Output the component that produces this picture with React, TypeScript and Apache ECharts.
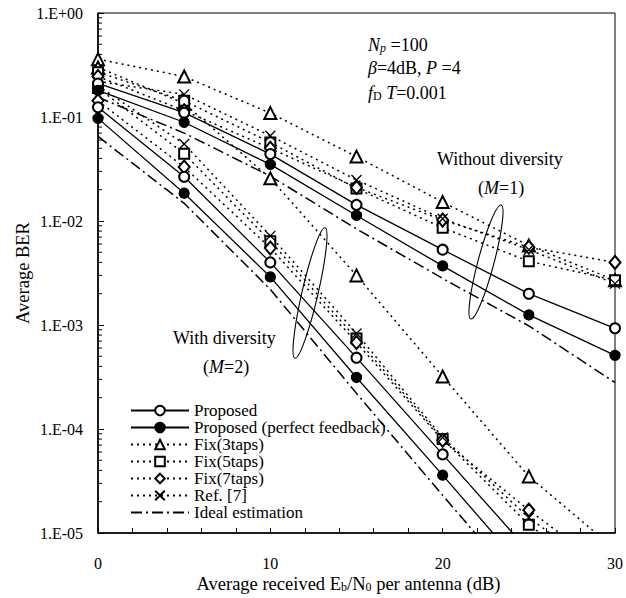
import React, { useEffect, useRef } from "react";
import * as echarts from "echarts";

const FONT = '"Liberation Serif", "Times New Roman", serif';

// Eb/N0 (dB)
const snr = [0, 5, 10, 15, 20, 25, 30];

// Without diversity (M=1)
const prop1 = [0.21, 0.11, 0.044, 0.0143, 0.0053, 0.002, 0.00093];
const perf1 = [0.18, 0.089, 0.035, 0.0113, 0.0037, 0.00125, 0.00051];
const fix3_1 = [0.36, 0.245, 0.109, 0.0416, 0.0152, 0.0058, 0.0027];
const fix5_1 = [0.27, 0.143, 0.057, 0.0205, 0.0086, 0.0041, 0.0027];
const fix7_1 = [0.245, 0.115, 0.05, 0.021, 0.0102, 0.0056, 0.004];
const ref1 = [0.22, 0.165, 0.066, 0.0248, 0.0105, 0.0053, 0.0025];
const ideal1 = [0.155, 0.07, 0.027, 0.0084, 0.0028, 0.00098, 0.00028];

// With diversity (M=2)
const prop2 = [0.124, 0.0266, 0.004, 0.000485, 0.000057, 0.0000067, null];
const perf2 = [0.097, 0.0185, 0.0029, 0.000313, 0.000036, 0.000004, null];
const fix3_2 = [0.3, 0.135, 0.0257, 0.003, 0.00032, 0.000035, 0.000007];
const fix5_2 = [0.19, 0.0444, 0.0064, 0.00074, 0.00008, 0.000012, 0.000003];
const fix7_2 = [0.143, 0.033, 0.0055, 0.00068, 0.000078, 0.0000166, 0.000004];
const ref2 = [0.2, 0.055, 0.0072, 0.00083, 0.000083, 0.000014, 0.0000035];
const ideal2 = [0.065, 0.0148, 0.0022, 0.00022, 0.000023, 0.0000025, null];

const legendNames = [
  "Proposed",
  "Proposed (perfect feedback)",
  "Fix(3taps)",
  "Fix(5taps)",
  "Fix(7taps)",
  "Ref. [7]",
  "Ideal estimation",
];

const decades = [-5, -4, -3, -2, -1];
const minorMultipliers = [2, 3, 4, 5, 6, 7, 8, 9];

const CROSS = "path://M0,0L10,10M10,0L0,10";
const DOTTED = [2, 4];
const DASHDOT = [11, 4, 2, 4];

type Style = { symbol: string; size: any; line: any };
const styles: Record<string, Style> = {
  "Proposed": { symbol: "emptyCircle", size: 10, line: "solid" },
  "Proposed (perfect feedback)": { symbol: "circle", size: 10, line: "solid" },
  "Fix(3taps)": { symbol: "emptyTriangle", size: 12, line: DOTTED },
  "Fix(5taps)": { symbol: "emptyRect", size: 10, line: DOTTED },
  "Fix(7taps)": { symbol: "emptyDiamond", size: [11, 13], line: DOTTED },
  "Ref. [7]": { symbol: CROSS, size: 10, line: DOTTED },
  "Ideal estimation": { symbol: "none", size: 1, line: DASHDOT },
};

function mk(name: string, vals: (number | null)[]) {
  const st = styles[name];
  return {
    name,
    type: "line",
    data: snr.map((x, i) => [x, vals[i]]),
    symbol: st.symbol,
    symbolSize: st.size,
    clip: true,
    lineStyle: { color: "#000", width: st.line === "solid" ? 1.3 : 1.5, type: st.line },
    itemStyle: { color: "#000", borderColor: "#000", borderWidth: 1.3 },
    emphasis: { disabled: true },
    z: 3,
  };
}

export default function App() {
  const ref = useRef<HTMLDivElement>(null);
  useEffect(() => {
    if (!ref.current) return;
    const chart = echarts.init(ref.current, undefined, { renderer: "svg" });
    const minorData: number[][] = [];
    decades.forEach((e) =>
      minorMultipliers.forEach((m) => minorData.push([0, m * Math.pow(10, e)]))
    );
    const richAxis = {
      n: { fontSize: 18.5, fontFamily: FONT, color: "#000" },
      s: { fontSize: 12, fontFamily: FONT, color: "#000", verticalAlign: "bottom" },
    };
    const richA = {
      i: { fontStyle: "italic", fontSize: 18, fontFamily: FONT, verticalAlign: "top" },
      n: { fontSize: 18, fontFamily: FONT, verticalAlign: "top" },
      si: { fontStyle: "italic", fontSize: 12, lineHeight: 12, fontFamily: FONT, verticalAlign: "bottom", padding: [9, 0, 0, 0] },
      s: { fontSize: 12, lineHeight: 12, fontFamily: FONT, verticalAlign: "bottom", padding: [9, 0, 0, 0] },
    };
    const txt = (x: number, y: number, text: string) => ({
      type: "text",
      x,
      y,
      z: 10,
      style: {
        text,
        rich: richA,
        fill: "#000",
        fontSize: 18,
        fontFamily: FONT,
        verticalAlign: "middle",
        align: "left",
      },
    });
    const option: any = {
      animation: false,
      backgroundColor: "#fff",
      grid: {
        left: 98,
        right: 11,
        top: 13,
        bottom: 60,
        show: true,
        borderColor: "#000",
        borderWidth: 1,
      },
      xAxis: {
        type: "value",
        min: 0,
        max: 30,
        interval: 10,
        name: "{n|Average received E}{s|b}{n|/N}{s|0}{n| per antenna (dB)}",
        nameLocation: "middle",
        nameGap: 41,
        nameMoveOverlap: false,
        nameTextStyle: { color: "#000", fontFamily: FONT, fontSize: 18.5, rich: richAxis, padding: [0, 16, 0, 0] },
        axisLine: { lineStyle: { color: "#000", width: 1.6 } },
        axisTick: { inside: true, length: 5, lineStyle: { color: "#000" } },
        minorTick: { show: true, splitNumber: 5, length: 5, lineStyle: { color: "#000" } },
        axisLabel: { margin: 22, color: "#000", fontFamily: FONT, fontSize: 16 },
        splitLine: { show: false },
        minorSplitLine: { show: false },
      },
      yAxis: {
        type: "log",
        logBase: 10,
        min: 1e-5,
        max: 1,
        splitNumber: 5,
        name: "Average BER",
        nameLocation: "middle",
        nameGap: 66,
        nameMoveOverlap: false,
        nameTextStyle: { color: "#000", fontFamily: FONT, fontSize: 18.5 },
        axisLine: { lineStyle: { color: "#000", width: 1.6 } },
        axisTick: { inside: true, length: 6, lineStyle: { color: "#000" } },
        axisLabel: {
          margin: 15,
          color: "#000",
          fontFamily: FONT,
          fontSize: 16,
          formatter: (v: number) => {
            const e = Math.round(Math.log10(v));
            return "1.E" + (e >= 0 ? "+" : "-") + String(Math.abs(e)).padStart(2, "0");
          },
        },
        splitLine: { show: false },
      },
      legend: {
        orient: "vertical",
        left: 130,
        top: 402,
        padding: 0,
        itemWidth: 58,
        itemHeight: 12,
        itemGap: 0,
        selectedMode: false,
        data: legendNames.map((n) =>
          n === "Ideal estimation" ? { name: n, itemStyle: { opacity: 0 } } : n
        ),
        textStyle: { color: "#000", fontFamily: FONT, fontSize: 17 },
      },
      graphic: [
        txt(368, 45, "{i|N}{si|p}{n| =100}"),
        txt(368, 68, "{i|β}{n|=4dB, }{i|P}{n| =4}"),
        txt(368, 93, "{i|f}{s|D}{i| T}{n|=0.001}"),
        txt(437, 159, "{n|Without diversity}"),
        txt(478, 188, "{n|(}{i|M}{n|=1)}"),
        txt(173, 338, "{n|With diversity}"),
        txt(203, 367, "{n|(}{i|M}{n|=2)}"),
        {
          type: "ellipse",
          x: 310,
          y: 293,
          rotation: -0.227,
          z: 10,
          shape: { cx: 0, cy: 0, rx: 8, ry: 67 },
          style: { fill: "none", stroke: "#000", lineWidth: 1.1 },
        },
        {
          type: "ellipse",
          x: 486,
          y: 262,
          rotation: -0.26,
          z: 10,
          shape: { cx: 0, cy: 0, rx: 8, ry: 59 },
          style: { fill: "none", stroke: "#000", lineWidth: 1.1 },
        },
      ],
      series: [
        mk("Ideal estimation", ideal1),
        mk("Ideal estimation", ideal2),
        mk("Fix(3taps)", fix3_1),
        mk("Fix(3taps)", fix3_2),
        mk("Fix(5taps)", fix5_1),
        mk("Fix(5taps)", fix5_2),
        mk("Fix(7taps)", fix7_1),
        mk("Fix(7taps)", fix7_2),
        mk("Ref. [7]", ref1),
        mk("Ref. [7]", ref2),
        mk("Proposed", prop1),
        mk("Proposed", prop2),
        mk("Proposed (perfect feedback)", perf1),
        mk("Proposed (perfect feedback)", perf2),
        {
          name: "minorTicks",
          type: "custom",
          silent: true,
          data: minorData,
          renderItem: (_p: any, api: any) => {
            const pt = api.coord([api.value(0), api.value(1)]);
            return {
              type: "line",
              shape: { x1: pt[0], y1: pt[1], x2: pt[0] + 4, y2: pt[1] },
              style: { stroke: "#000", lineWidth: 1 },
            };
          },
          z: 4,
        },
      ],
    };
    chart.setOption(option);
    return () => chart.dispose();
  }, []);
  return (
    <div
      ref={ref}
      style={{ position: "fixed", left: 0, top: 0, width: 626, height: 598, background: "#fff" }}
    />
  );
}
